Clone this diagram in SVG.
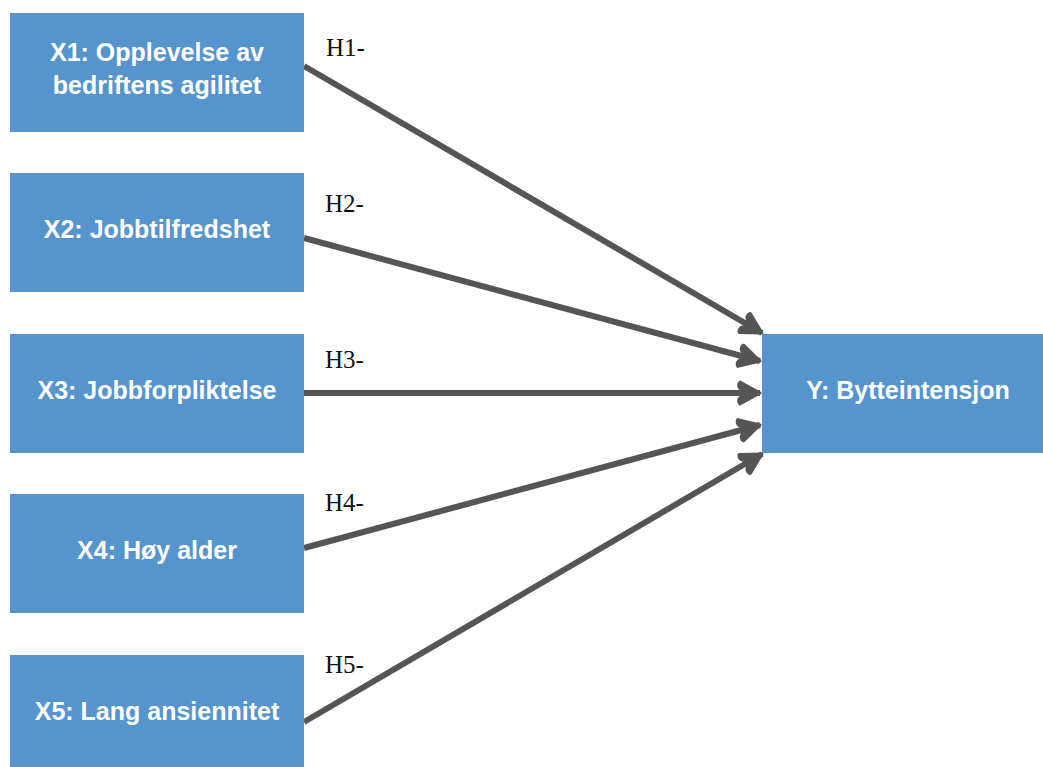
<svg xmlns="http://www.w3.org/2000/svg" width="1043" height="767" viewBox="0 0 1043 767">
<style>
.box{fill:#5594cd;}
.t{font-family:"Liberation Sans",Arial,sans-serif;font-weight:bold;font-size:25px;fill:#fff;text-anchor:middle;}
.h{font-family:"Liberation Serif","Times New Roman",serif;font-size:25px;fill:#111;}
.c{stroke:#555;stroke-width:6;fill:none;marker-end:url(#ah);}
</style>
<defs>
<marker id="ah" markerUnits="userSpaceOnUse" markerWidth="30" markerHeight="30" viewBox="0 0 30 30" refX="26" refY="15" orient="auto">
<path d="M6,4 L26,15 L6,26 Q4,24 5,21 L10,15 L5,9 Q4,6 6,4 Z" fill="#555" stroke="#555" stroke-width="3" stroke-linejoin="round"/>
</marker>
</defs>
<rect width="1043" height="767" fill="#fff"/>
<g id="connectors">
<line class="c" x1="304" y1="66" x2="762" y2="333"/>
<line class="c" x1="304" y1="238" x2="760" y2="361"/>
<line class="c" x1="304" y1="393" x2="760" y2="393"/>
<line class="c" x1="304" y1="548" x2="760" y2="425"/>
<line class="c" x1="304" y1="722" x2="762" y2="454"/>
</g>
<g id="labels">
<text class="h" x="326" y="56">H1-</text>
<text class="h" x="325" y="212">H2-</text>
<text class="h" x="325" y="368">H3-</text>
<text class="h" x="325" y="511">H4-</text>
<text class="h" x="325" y="673">H5-</text>
</g>
<g id="X1"><rect class="box" x="10" y="13" width="294" height="119"/><text class="t" x="157" y="61">X1: Opplevelse av</text><text class="t" x="157" y="94">bedriftens agilitet</text></g>
<g id="X2"><rect class="box" x="10" y="173" width="294" height="119"/><text class="t" x="157" y="238">X2: Jobbtilfredshet</text></g>
<g id="X3"><rect class="box" x="10" y="334" width="294" height="119"/><text class="t" x="157" y="399">X3: Jobbforpliktelse</text></g>
<g id="X4"><rect class="box" x="10" y="494" width="294" height="119"/><text class="t" x="157" y="559">X4: Høy alder</text></g>
<g id="X5"><rect class="box" x="10" y="655" width="294" height="119"/><text class="t" x="157" y="720">X5: Lang ansiennitet</text></g>
<g id="Y"><rect class="box" x="762" y="334" width="290" height="119"/><text class="t" x="908" y="399">Y: Bytteintensjon</text></g>
</svg>
